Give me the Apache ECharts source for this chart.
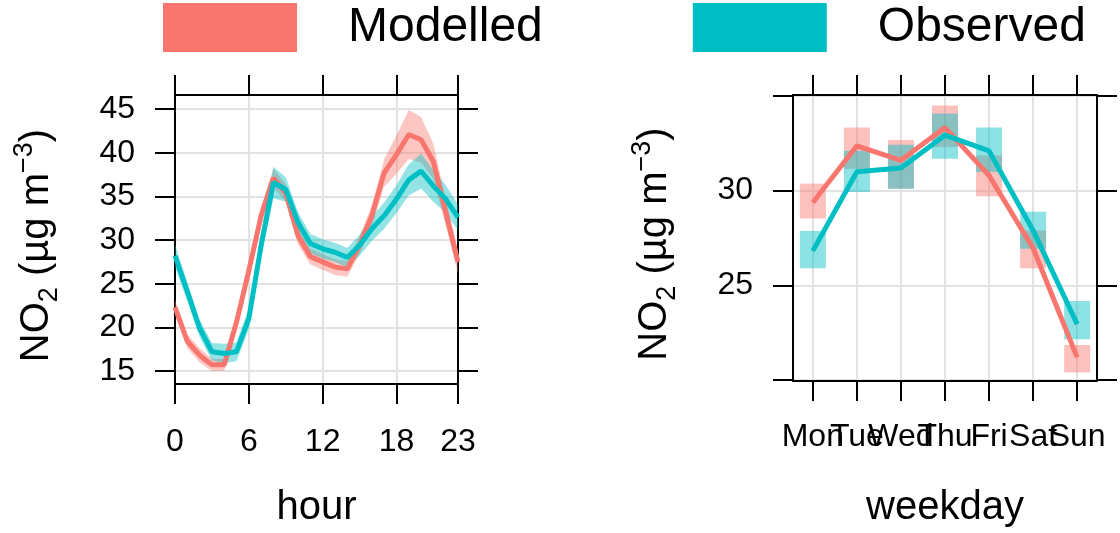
<!DOCTYPE html>
<html>
<head>
<meta charset="utf-8">
<title>NO2 by hour and weekday</title>
<script src="https://cdn.jsdelivr.net/npm/echarts@6/dist/echarts.min.js"></script>
<style>
  html, body {margin: 0; padding: 0; background: #fff;}
  #chart {width: 1120px; height: 533px;}
</style>
</head>
<body>
<div id="chart"></div>
<script>
// hour panel
let hours = [0, 1, 2, 3, 4, 5, 6, 7, 8, 9, 10, 11, 12, 13, 14, 15, 16, 17, 18, 19, 20, 21, 22, 23];
let hourMod = [22.3, 18.4, 16.8, 15.7, 15.7, 20.6, 26.5, 32.8, 37.1, 35.4, 30.5, 28.1, 27.5, 26.9, 26.7, 29.4, 32.8, 37.7, 39.8, 42.1, 41.5, 39.0, 33.2, 27.5];
let hourModLow = [21.4, 17.6, 16.0, 15.0, 15.0, 19.8, 25.6, 31.8, 36.0, 34.4, 29.5, 27.2, 26.6, 26.0, 25.8, 28.4, 31.6, 36.1, 37.6, 39.3, 38.9, 37.0, 31.7, 26.2];
let hourModHigh = [23.2, 19.2, 17.6, 16.4, 16.4, 21.4, 27.4, 33.8, 38.2, 36.4, 31.5, 29.0, 28.4, 27.8, 27.6, 30.4, 34.0, 39.3, 42.0, 44.9, 44.1, 41.0, 34.7, 28.8];
let hourObs = [28.2, 24.1, 19.9, 17.2, 17.0, 17.2, 21.0, 29.4, 36.6, 35.8, 32.0, 29.6, 29.0, 28.6, 28.0, 29.4, 31.3, 32.8, 34.7, 36.9, 37.9, 36.2, 34.7, 32.6];
let hourObsLow = [26.9, 23.0, 18.9, 16.2, 15.9, 16.1, 19.8, 28.0, 34.8, 34.4, 30.8, 28.5, 27.9, 27.5, 26.9, 28.2, 29.9, 31.3, 33.1, 35.1, 35.9, 34.4, 33.1, 31.1];
let hourObsHigh = [29.5, 25.2, 20.9, 18.2, 18.1, 18.3, 22.2, 30.8, 38.4, 37.2, 33.2, 30.7, 30.1, 29.7, 29.1, 30.6, 32.7, 34.3, 36.3, 38.7, 39.9, 38.0, 36.3, 34.1];
let hourTicks = [0, 6, 12, 18, 23];
let hourYTicks = [15, 20, 25, 30, 35, 40, 45];

// weekday panel
let days = ['Mon', 'Tue', 'Wed', 'Thu', 'Fri', 'Sat', 'Sun'];
let dayIdx = [0, 1, 2, 3, 4, 5, 6];
let dayMod = [29.37, 32.37, 31.6, 33.33, 30.8, 26.96, 21.2];
let dayModLow = [28.53, 31.15, 30.1, 32.3, 29.7, 25.9, 20.4];
let dayModHigh = [30.37, 33.33, 32.67, 34.5, 31.85, 27.9, 21.85];
let dayObs = [26.82, 31.0, 31.19, 32.93, 32.1, 27.9, 22.95];
let dayObsLow = [25.9, 29.93, 30.1, 31.68, 30.98, 26.93, 22.16];
let dayObsHigh = [27.87, 32.1, 32.42, 34.07, 33.33, 28.88, 24.17];
let dayYTicks = [20, 25, 30, 35];
let dayYLabels = [25, 30];

let RED = '#F8766D';
let TEAL = '#00BFC4';
let FONT = '"Liberation Sans", Arial, sans-serif';
let DAY_MIN = -0.45;
let DAY_MAX = 6.45;

let yName = '{a|NO}{b|2}{a| (µg m}{c|−3}{a|)}';
let yRich = {
  a: {fontSize: 40, fontFamily: FONT, color: '#000', lineHeight: 52},
  b: {fontSize: 27, fontFamily: FONT, color: '#000', verticalAlign: 'bottom', lineHeight: 27},
  c: {fontSize: 27, fontFamily: FONT, color: '#000', verticalAlign: 'top', lineHeight: 27}
};

let black = {show: true, onZero: false, lineStyle: {color: '#000', width: 2}};
let grey = {show: true, lineStyle: {color: '#e2e2e2', width: 2}};

let tickLabels = function (values, margin, formatter, showEnds) {
  let l = {
    show: true, customValues: values, fontSize: 32, fontFamily: FONT, color: '#000',
    margin: margin, hideOverlap: false
  };
  if (showEnds) {
    l.showMinLabel = true;
    l.showMaxLabel = true;
  }
  if (formatter) {
    l.formatter = formatter;
  }
  return l;
};

// one axis of the lattice box: ticks outside on every side
let boxAxis = function (gridIndex, position, min, max, ticks, extra) {
  let a = {
    type: 'value', gridIndex: gridIndex, position: position, min: min, max: max,
    axisLine: black,
    axisTick: {show: true, inside: false, length: 20, customValues: ticks, lineStyle: {color: '#000', width: 2}},
    axisLabel: {show: false},
    splitLine: {show: false}
  };
  return Object.assign(a, extra || {});
};

let bandItem = function (lo, hi, color) {
  return function (params, api) {
    if (params.dataIndex !== 0) {
      return null;
    }
    let pts = [];
    hours.forEach(function (h, i) {
      pts.push(api.coord([h, hi[i]]));
    });
    for (let i = hours.length - 1; i >= 0; i--) {
      pts.push(api.coord([hours[i], lo[i]]));
    }
    return {type: 'polygon', shape: {points: pts}, style: {fill: color, opacity: 0.42}};
  };
};

let rectItem = function (color) {
  return function (params, api) {
    let x = api.value(0);
    let top = api.coord([x, api.value(2)]);
    let bot = api.coord([x, api.value(1)]);
    return {
      type: 'rect',
      shape: {x: top[0] - 13, y: top[1], width: 26, height: bot[1] - top[1]},
      style: {fill: color, opacity: 0.45}
    };
  };
};

let pairs = function (xs, ys) {
  return xs.map(function (x, i) { return [x, ys[i]]; });
};
let triples = function (xs, lo, hi) {
  return xs.map(function (x, i) { return [x, lo[i], hi[i]]; });
};

// empty labels at the box edges keep ECharts from dropping Tue / Sat
let dayLabelValues = [DAY_MIN].concat(dayIdx, [DAY_MAX]);

let option = {
  animation: false,
  backgroundColor: '#fff',
  legend: {
    left: 163, top: 3, padding: 0, icon: 'rect', itemWidth: 134, itemHeight: 49, itemGap: 150,
    selectedMode: false,
    textStyle: {fontSize: 48, fontFamily: FONT, color: '#000', padding: [0, 0, 0, 46]},
    data: [
      {name: 'Modelled', itemStyle: {color: RED, opacity: 1}},
      {name: 'Observed', itemStyle: {color: TEAL, opacity: 1}}
    ]
  },
  grid: [
    {left: 175, top: 95, width: 283, height: 291},
    {left: 793, top: 95, width: 304, height: 289}
  ],
  xAxis: [
    boxAxis(0, 'bottom', 0, 23, hourTicks, {
      splitLine: grey,
      axisLabel: tickLabels(hourTicks, 42, null, true),
      name: 'hour', nameLocation: 'middle', nameGap: 104,
      nameTextStyle: {fontSize: 40, fontFamily: FONT, color: '#000'}
    }),
    boxAxis(0, 'top', 0, 23, hourTicks),
    boxAxis(1, 'bottom', DAY_MIN, DAY_MAX, dayIdx, {
      splitLine: grey,
      axisLabel: tickLabels(dayLabelValues, 40, function (v) {
        return Number.isInteger(v) ? days[v] : '';
      }, false),
      name: 'weekday', nameLocation: 'middle', nameGap: 107,
      nameTextStyle: {fontSize: 40, fontFamily: FONT, color: '#000'}
    }),
    boxAxis(1, 'top', DAY_MIN, DAY_MAX, dayIdx)
  ],
  yAxis: [
    boxAxis(0, 'left', 13.5, 46.63, hourYTicks, {
      splitLine: grey,
      axisLabel: tickLabels(hourYTicks, 40, null, true),
      name: yName, nameLocation: 'middle', nameGap: 112,
      nameTextStyle: {rich: yRich, padding: [0, 12, 0, 0]}
    }),
    boxAxis(0, 'right', 13.5, 46.63, hourYTicks),
    boxAxis(1, 'left', 19.95, 35.05, dayYTicks, {
      splitLine: grey,
      axisLabel: tickLabels(dayYLabels, 40, null, true),
      name: yName, nameLocation: 'middle', nameGap: 112,
      nameTextStyle: {rich: yRich, padding: [0, 12, 0, 0]}
    }),
    boxAxis(1, 'right', 19.95, 35.05, dayYTicks)
  ],
  series: [
    {
      name: 'Modelled', type: 'custom', xAxisIndex: 0, yAxisIndex: 0,
      renderItem: bandItem(hourModLow, hourModHigh, RED),
      encode: {x: 0, y: [1, 2]}, data: triples(hours, hourModLow, hourModHigh), z: 2
    },
    {
      name: 'Observed', type: 'custom', xAxisIndex: 0, yAxisIndex: 0,
      renderItem: bandItem(hourObsLow, hourObsHigh, TEAL),
      encode: {x: 0, y: [1, 2]}, data: triples(hours, hourObsLow, hourObsHigh), z: 2
    },
    {
      name: 'Modelled', type: 'line', xAxisIndex: 0, yAxisIndex: 0, showSymbol: false,
      lineStyle: {color: RED, width: 5}, itemStyle: {color: RED},
      data: pairs(hours, hourMod), z: 3
    },
    {
      name: 'Observed', type: 'line', xAxisIndex: 0, yAxisIndex: 0, showSymbol: false,
      lineStyle: {color: TEAL, width: 5}, itemStyle: {color: TEAL},
      data: pairs(hours, hourObs), z: 4
    },
    {
      name: 'Modelled', type: 'custom', xAxisIndex: 2, yAxisIndex: 2,
      renderItem: rectItem(RED),
      encode: {x: 0, y: [1, 2]}, data: triples(dayIdx, dayModLow, dayModHigh), z: 2
    },
    {
      name: 'Observed', type: 'custom', xAxisIndex: 2, yAxisIndex: 2,
      renderItem: rectItem(TEAL),
      encode: {x: 0, y: [1, 2]}, data: triples(dayIdx, dayObsLow, dayObsHigh), z: 2
    },
    {
      name: 'Modelled', type: 'line', xAxisIndex: 2, yAxisIndex: 2, showSymbol: false,
      lineStyle: {color: RED, width: 5}, itemStyle: {color: RED},
      data: pairs(dayIdx, dayMod), z: 3
    },
    {
      name: 'Observed', type: 'line', xAxisIndex: 2, yAxisIndex: 2, showSymbol: false,
      lineStyle: {color: TEAL, width: 5}, itemStyle: {color: TEAL},
      data: pairs(dayIdx, dayObs), z: 4
    }
  ]
};

let chart = echarts.init(document.getElementById('chart'), null, {renderer: 'canvas'});
chart.setOption(option);
window.onresize = function () {
  chart.resize();
};
</script>
</body>
</html>
